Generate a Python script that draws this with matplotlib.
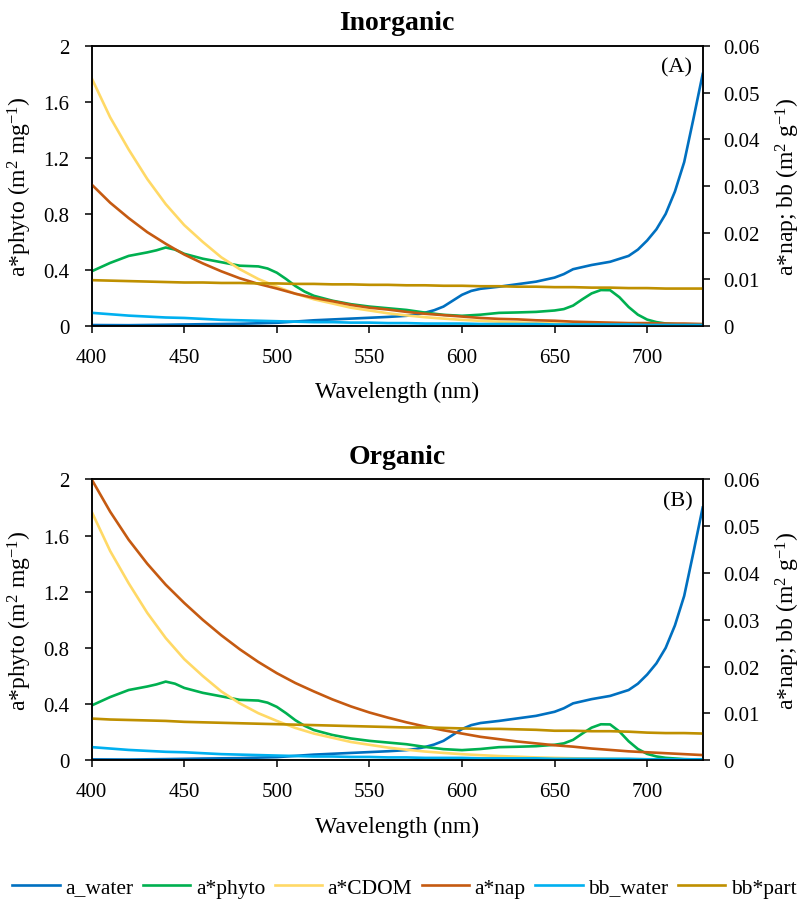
import matplotlib
matplotlib.use('Agg')
import matplotlib.pyplot as plt
from matplotlib.ticker import FuncFormatter

# wavelength grids (nm)
wl = [400, 410, 420, 430, 440, 450, 460, 470, 480, 490, 500, 510, 520, 530, 540, 550, 560,
      570, 580, 590, 600, 610, 620, 630, 640, 650, 660, 670, 680, 690, 700, 710, 720, 730]

wl_water = [400, 420, 440, 460, 480, 500, 520, 540, 550, 560, 570, 575, 580, 585, 590, 595,
            600, 605, 610, 620, 630, 640, 650, 655, 660, 670, 680, 690, 695, 700, 705, 710,
            715, 720, 725, 730]
a_water = [0.006, 0.005, 0.008, 0.012, 0.015, 0.022, 0.040, 0.052, 0.058, 0.064, 0.072, 0.080,
           0.094, 0.112, 0.138, 0.180, 0.222, 0.250, 0.265, 0.280, 0.298, 0.316, 0.345, 0.370,
           0.405, 0.435, 0.458, 0.500, 0.545, 0.610, 0.690, 0.800, 0.960, 1.170, 1.480, 1.800]

wl_phyto = [400, 410, 420, 430, 435, 440, 445, 450, 460, 470, 480, 490, 495, 500, 505, 510,
            515, 520, 530, 540, 550, 560, 570, 580, 590, 600, 610, 620, 630, 640, 650, 655,
            660, 665, 670, 675, 680, 685, 690, 695, 700, 705, 710, 720, 730]
a_phyto = [0.39, 0.45, 0.50, 0.525, 0.54, 0.56, 0.545, 0.515, 0.48, 0.455, 0.43, 0.425, 0.41,
           0.38, 0.335, 0.285, 0.245, 0.215, 0.18, 0.155, 0.138, 0.126, 0.114, 0.095, 0.079,
           0.072, 0.080, 0.093, 0.096, 0.100, 0.110, 0.120, 0.145, 0.190, 0.232, 0.256, 0.255,
           0.205, 0.135, 0.080, 0.045, 0.027, 0.017, 0.008, 0.004]

a_cdom = [1.77, 1.49, 1.26, 1.05, 0.87, 0.72, 0.60, 0.49, 0.405, 0.335, 0.28, 0.23, 0.19, 0.16,
          0.13, 0.11, 0.09, 0.075, 0.062, 0.052, 0.043, 0.036, 0.030, 0.025, 0.020, 0.017,
          0.014, 0.012, 0.010, 0.008, 0.007, 0.006, 0.005, 0.004]

bb_water = [0.0028, 0.0025, 0.0022, 0.0020, 0.0018, 0.0017, 0.0015, 0.0013, 0.0012, 0.0011,
            0.0010, 0.0009, 0.0008, 0.0008, 0.0007, 0.0007, 0.0006, 0.0006, 0.0005, 0.0005,
            0.0005, 0.0004, 0.0004, 0.0004, 0.0004, 0.0003, 0.0003, 0.0003, 0.0003, 0.0003,
            0.0002, 0.0002, 0.0002, 0.0002]

# inorganic case (A)
a_nap_inorg = [0.0303, 0.0264, 0.0231, 0.0201, 0.0176, 0.0153, 0.0134, 0.0117, 0.0102, 0.0090,
               0.0080, 0.0069, 0.0060, 0.0053, 0.0045, 0.0039, 0.0035, 0.0030, 0.0026, 0.0023,
               0.0020, 0.0017, 0.0015, 0.0014, 0.0012, 0.0011, 0.0009, 0.0008, 0.0007, 0.0006,
               0.0006, 0.0005, 0.0005, 0.0004]
bbp_inorg = [0.0098, 0.0097, 0.0096, 0.0095, 0.0094, 0.0093, 0.0093, 0.0092, 0.0092, 0.0091,
             0.0091, 0.0090, 0.0090, 0.0089, 0.0089, 0.0088, 0.0088, 0.0087, 0.0087, 0.0086,
             0.0086, 0.0085, 0.0085, 0.0084, 0.0084, 0.0083, 0.0083, 0.0082, 0.0082, 0.0081,
             0.0081, 0.0080, 0.0080, 0.0080]

# organic case (B)
a_nap_org = [0.0600, 0.0531, 0.0471, 0.0420, 0.0375, 0.0336, 0.0300, 0.0267, 0.0237, 0.0210,
             0.0186, 0.0165, 0.0147, 0.0130, 0.0115, 0.0102, 0.0091, 0.0081, 0.0072, 0.0064,
             0.0057, 0.0050, 0.0045, 0.0040, 0.0036, 0.0032, 0.0029, 0.0025, 0.0022, 0.0019,
             0.0017, 0.0015, 0.0013, 0.0011]
bbp_org = [0.0089, 0.0087, 0.0086, 0.0085, 0.0084, 0.0082, 0.0081, 0.0080, 0.0079, 0.0078,
           0.0077, 0.0076, 0.0075, 0.0074, 0.0073, 0.0072, 0.0071, 0.0070, 0.0070, 0.0069,
           0.0068, 0.0067, 0.0067, 0.0066, 0.0065, 0.0063, 0.0063, 0.0062, 0.0062, 0.0061,
           0.0059, 0.0058, 0.0058, 0.0057]

col_water = '#0070C0'
col_phyto = '#00B050'
col_cdom = '#FFD966'
col_nap = '#C55A11'
col_bbw = '#00B0F0'
col_bbp = '#BF9000'

plt.rcParams['font.family'] = ['Liberation Serif', 'DejaVu Serif']
plt.rcParams['mathtext.fontset'] = 'custom'
plt.rcParams['mathtext.rm'] = 'Liberation Serif'
plt.rcParams['mathtext.it'] = 'Liberation Serif:italic'
plt.rcParams['axes.linewidth'] = 1.1

fig = plt.figure(figsize=(8.04, 9.03), dpi=100)
lw = 1.9
fmt = FuncFormatter(lambda v, p: '%g' % round(v, 3))


def panel(rect, title, tag, a_nap, bbp):
    ax = fig.add_axes(rect)
    ax2 = ax.twinx()
    l1, = ax.plot(wl_water, a_water, color=col_water, lw=lw, label='a_water')
    l2, = ax.plot(wl_phyto, a_phyto, color=col_phyto, lw=lw, label='a*phyto')
    l3, = ax.plot(wl, a_cdom, color=col_cdom, lw=lw, label='a*CDOM')
    l4, = ax2.plot(wl, a_nap, color=col_nap, lw=lw, label='a*nap')
    l5, = ax2.plot(wl, bb_water, color=col_bbw, lw=lw, label='bb_water')
    l6, = ax2.plot(wl, bbp, color=col_bbp, lw=lw, label='bb*part')
    ax.set_xlim(400, 730)
    ax.set_ylim(0, 2)
    ax2.set_ylim(0, 0.06)
    ax.set_xticks([400, 450, 500, 550, 600, 650, 700])
    ax.set_yticks([0, 0.4, 0.8, 1.2, 1.6, 2])
    ax2.set_yticks([0, 0.01, 0.02, 0.03, 0.04, 0.05, 0.06])
    ax.yaxis.set_major_formatter(fmt)
    ax2.yaxis.set_major_formatter(fmt)
    ax.tick_params(axis='both', direction='out', length=5, width=1.1, labelsize=15)
    ax.tick_params(axis='x', pad=11)
    ax.tick_params(axis='y', pad=11)
    ax2.tick_params(axis='y', direction='out', length=5, width=1.1, labelsize=15, pad=10)
    ax.set_xlabel('Wavelength (nm)', fontsize=17, labelpad=10)
    ax.set_ylabel(r'a*phyto (m$^{2}$ mg$^{-1}$)', fontsize=17, labelpad=7)
    ax2.set_ylabel(r'a*nap; bb (m$^{2}$ g$^{-1}$)', fontsize=17, labelpad=10)
    ax.set_title(title, fontsize=20, fontweight='bold', pad=12)
    ax.text(0.983, 0.925, tag, transform=ax.transAxes, ha='right', va='center', fontsize=16)
    return [l1, l2, l3, l4, l5, l6]


handles = panel([0.114, 0.638, 0.760, 0.310], 'Inorganic', '(A)', a_nap_inorg, bbp_inorg)
panel([0.114, 0.157, 0.760, 0.311], 'Organic', '(B)', a_nap_org, bbp_org)

fig.legend(handles, [h.get_label() for h in handles], loc='center', ncol=6,
           bbox_to_anchor=(0.503, 0.016), frameon=False, fontsize=15.5,
           handlelength=2.2, handletextpad=0.25, columnspacing=0.45,
           borderpad=0.2, borderaxespad=0.2)

fig.savefig('out.png', dpi=100)
